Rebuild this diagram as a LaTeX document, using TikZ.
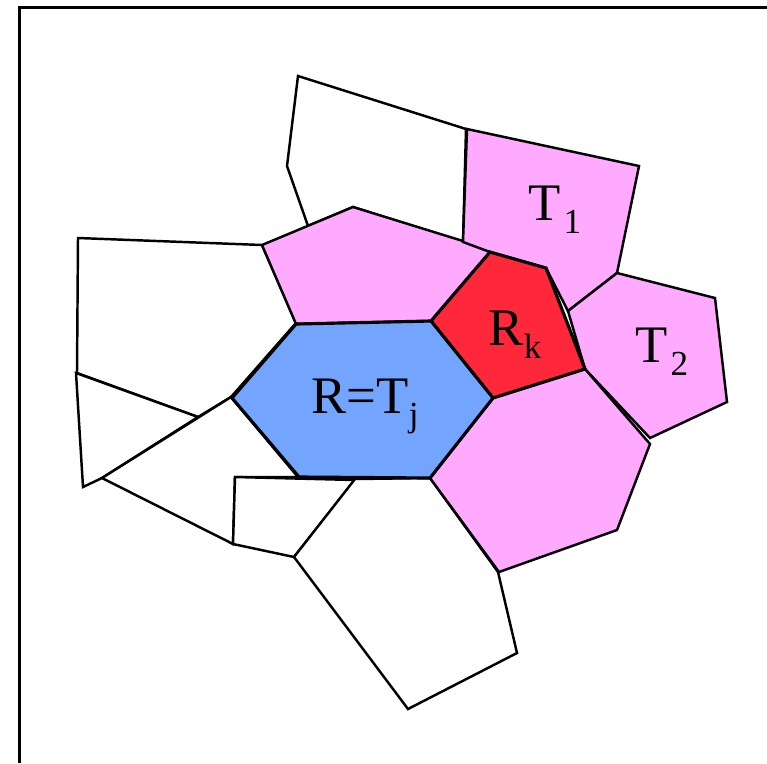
\documentclass[tikz,border=0pt]{standalone}
\usepackage{fontspec}
\setmainfont{Liberation Serif}
\usetikzlibrary{positioning}
\definecolor{cellpink}{RGB}{255,170,255}
\definecolor{cellblue}{RGB}{115,165,255}
\definecolor{cellred}{RGB}{255,40,58}
\newcommand{\lowsub}[1]{\raisebox{-3.8pt}{\fontsize{10}{12}\selectfont #1}}
\tikzset{
  cell/.style={draw, line width=0.7pt, line join=miter},
  white cell/.style={cell, fill=white},
  near cell/.style={cell, fill=cellpink},
  this cell/.style={cell, fill=cellblue, line width=0.9pt},
  picked cell/.style={cell, fill=cellred, line width=0.9pt},
  lbl/.style={inner sep=0pt, anchor=base west, font=\fontsize{15}{18}\selectfont},
  frame/.style={line width=0.7pt},
}
\begin{document}
\begin{tikzpicture}[x=0.01cm, y=-0.01cm]
    \useasboundingbox (0,0) rectangle (767,763);
    \draw[frame] (19.5,763) -- (19.5,7.5) -- (767,7.5);

    % outer cells
    \draw[white cell] (298,76) -- (466,129) -- (463,242) -- (353,207) -- (308,226) -- (287,166) -- cycle;
    \draw[white cell] (78,238) -- (262,245) -- (296,323) -- (231,397) -- (198,417) -- (77,373) -- cycle;
    \draw[white cell] (76,373) -- (198,417) -- (102,478) -- (83,487) -- cycle;
    \draw[white cell] (231,397) -- (298,477) -- (235,477) -- (233,544) -- (102,478) -- cycle;
    \draw[white cell] (235,477) -- (355,480) -- (294,557) -- (233,544) -- cycle;
    \draw[white cell] (355,479) -- (430,478) -- (498,572) -- (517,653) -- (408,709) -- (294,557) -- cycle;

    % neighbours
    \draw[near cell] (262,245) -- (353,207) -- (547,267) -- (490,252) -- (431,321) -- (296,324) -- cycle;
    \draw[near cell] (467,129) -- (639,166) -- (617,273) -- (568,311) -- (546,268) -- (490,252) -- (463,242) -- cycle;
    \draw[near cell] (568,311) -- (617,273) -- (715,298) -- (727,402) -- (650,438) -- (585,369) -- cycle;
    \draw[near cell] (493,398) -- (585,369) -- (650,444) -- (617,530) -- (499,572) -- (430,478) -- cycle;

    % R and R_k
    \draw[picked cell] (431,321) -- (490,252) -- (546,268) -- (585,369) -- (493,398) -- cycle;
    \draw[this cell] (232,398) -- (296,324) -- (431,321) -- (493,398) -- (430,478) -- (299,477) -- cycle;

    \node[lbl] (lR) at (311,413) {R=T\lowsub{j}};
    \node[lbl] (lRk) at (488,345) {R\lowsub{k}};
    \node[lbl] (lT1) at (528,220) {T\kern0.8pt\lowsub{1}};
    \node[lbl] (lT2) at (635,362) {T\kern0.8pt\lowsub{2}};
\end{tikzpicture}
\end{document}
